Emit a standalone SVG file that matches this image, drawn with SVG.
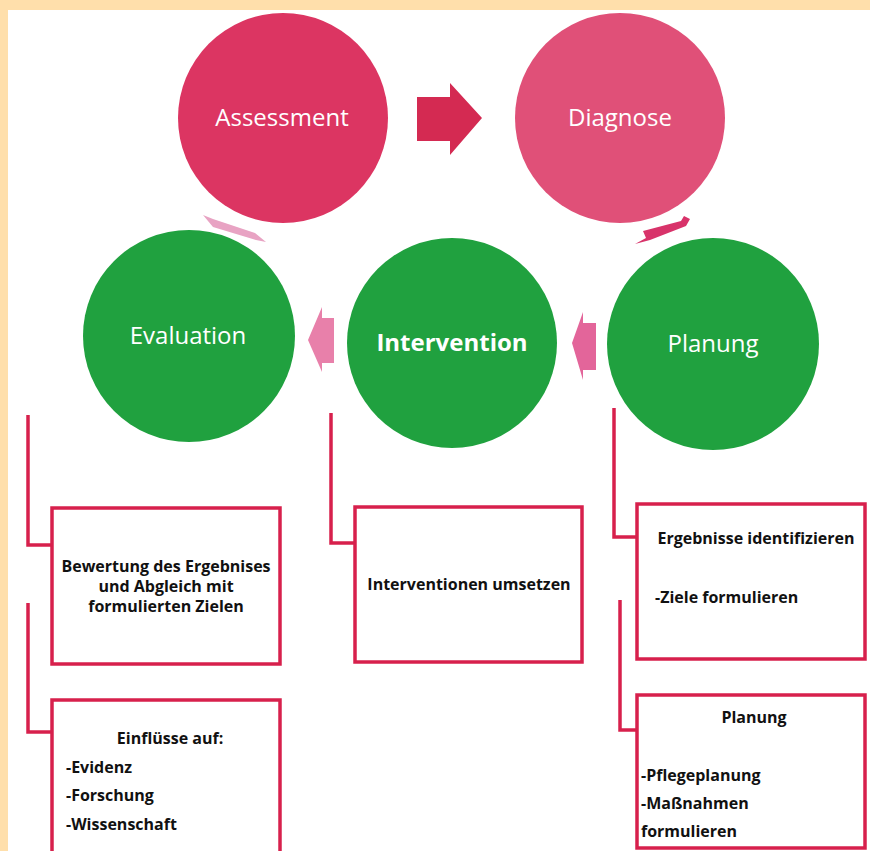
<svg xmlns="http://www.w3.org/2000/svg" width="870" height="851" viewBox="0 0 870 851">
<style>
.ct{font-family:"Open Sans","Noto Sans",sans-serif;fill:#fff;font-size:24px;text-anchor:middle}
.bt{font-family:"Open Sans","Noto Sans",sans-serif;fill:#111;font-size:16px;font-weight:bold}
.box{fill:#fff;stroke:#D7204C;stroke-width:3.5}
.con{fill:none;stroke:#D7204C;stroke-width:3.5}
.g{fill:#20A13F}
</style>
<rect x="0" y="0" width="870" height="851" fill="#FFDFAB"/>
<rect x="8" y="10" width="862" height="841" fill="#fff"/>
<g id="connectors">
<path class="con" d="M28,415 V545 H52"/>
<path class="con" d="M28,603 V732 H52"/>
<path class="con" d="M331,413 V543 H355"/>
<path class="con" d="M614,408 V537 H637"/>
<path class="con" d="M620,600 V730 H637"/>
<polygon points="417,97 450,97 450,83 482,118 450,155 450,141 417,141" fill="#D42A52"/>
<polygon points="635,244 646,238 643,231 681,221 684,216 690,219 686,226 650,240" fill="#D8336A"/>
<polygon points="203,215 213,219 255,233 266,242 256,240 213,227" fill="#E8A3C3"/>
<polygon points="308,340 322,307 322,318 334,318 334,363 322,363 322,372" fill="#E880AA"/>
<polygon points="572,343 583,312 583,323 596,323 596,370 583,370 583,380" fill="#E3659A"/>
</g>
<g id="assessment">
<circle cx="283" cy="118" r="105" fill="#DC3562"/>
<text class="ct" x="282" y="126">Assessment</text>
</g>
<g id="diagnose">
<circle cx="620" cy="118" r="105" fill="#E05078"/>
<text class="ct" x="620" y="126">Diagnose</text>
</g>
<g id="evaluation">
<circle class="g" cx="189" cy="336" r="106"/>
<text class="ct" x="188" y="344">Evaluation</text>
</g>
<g id="intervention">
<circle class="g" cx="452" cy="343" r="105"/>
<text class="ct" x="452" y="351" font-weight="bold" font-size="23.5">Intervention</text>
</g>
<g id="planung">
<circle class="g" cx="713" cy="344" r="106"/>
<text class="ct" x="713" y="352">Planung</text>
</g>
<g id="box-bewertung">
<rect class="box" x="52" y="508" width="228" height="156"/>
<text class="bt" text-anchor="middle" x="166" y="572">Bewertung des Ergebnises</text>
<text class="bt" text-anchor="middle" x="166" y="592">und Abgleich mit</text>
<text class="bt" text-anchor="middle" x="166" y="612">formulierten Zielen</text>
</g>
<g id="box-einfluesse">
<rect class="box" x="52" y="700" width="228" height="160"/>
<text class="bt" text-anchor="middle" x="170" y="744">Einflüsse auf:</text>
<text class="bt" x="66" y="773">-Evidenz</text>
<text class="bt" x="66" y="801">-Forschung</text>
<text class="bt" x="66" y="830">-Wissenschaft</text>
</g>
<g id="box-interventionen">
<rect class="box" x="355" y="507" width="227" height="155"/>
<text class="bt" text-anchor="middle" x="469" y="590">Interventionen umsetzen</text>
</g>
<g id="box-ergebnisse">
<rect class="box" x="637" y="504" width="228" height="155"/>
<text class="bt" text-anchor="middle" x="756" y="544">Ergebnisse identifizieren</text>
<text class="bt" x="655" y="603">-Ziele formulieren</text>
</g>
<g id="box-planung">
<rect class="box" x="637" y="695" width="228" height="153"/>
<text class="bt" text-anchor="middle" x="754" y="723">Planung</text>
<text class="bt" x="641" y="781">-Pflegeplanung</text>
<text class="bt" x="641" y="809">-Maßnahmen</text>
<text class="bt" x="641" y="837">formulieren</text>
</g>
</svg>
